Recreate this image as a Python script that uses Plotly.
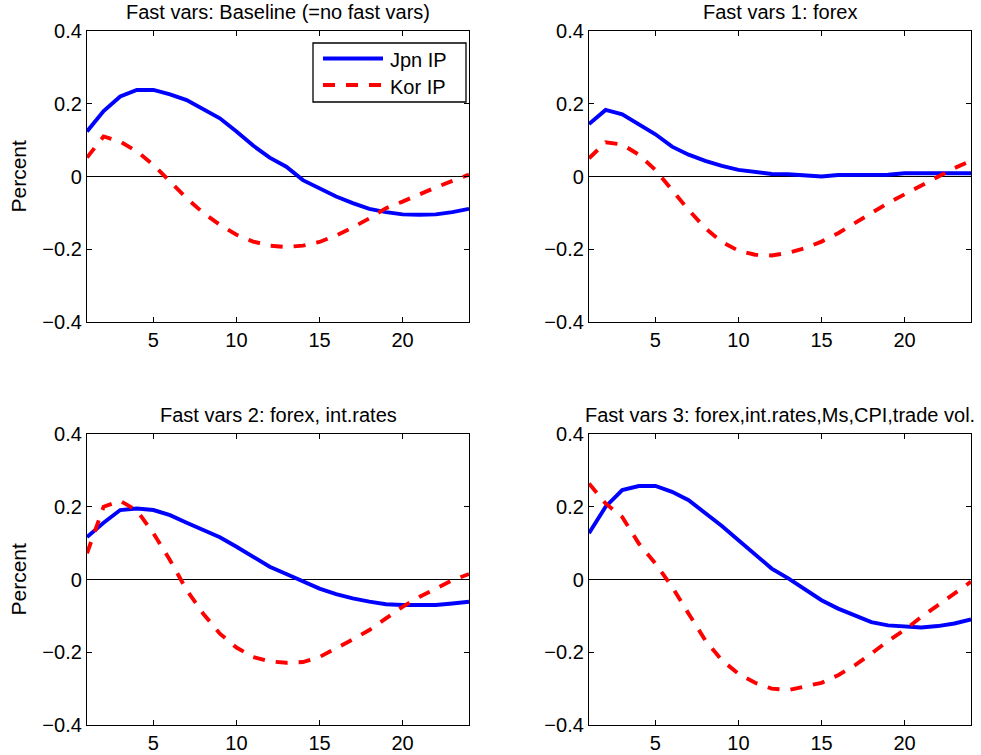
import plotly.graph_objects as go

# Impulse-response horizon (months)
horizon = list(range(1, 25))

panel_titles = [
    "Fast vars: Baseline (=no fast vars)",
    "Fast vars 1: forex",
    "Fast vars 2: forex, int.rates",
    "Fast vars 3: forex,int.rates,Ms,CPI,trade vol.",
]

series_names = ["Jpn IP", "Kor IP"]

# Responses, in percent
jpn_baseline = [0.124, 0.180, 0.220, 0.238, 0.238, 0.226, 0.210, 0.186, 0.160, 0.124,
                0.085, 0.052, 0.027, -0.010, -0.032, -0.055, -0.073, -0.089, -0.098, -0.104,
                -0.105, -0.104, -0.098, -0.089]
kor_baseline = [0.052, 0.110, 0.096, 0.069, 0.032, -0.014, -0.060, -0.100, -0.133, -0.160,
                -0.179, -0.190, -0.194, -0.190, -0.180, -0.162, -0.140, -0.115, -0.087, -0.069,
                -0.049, -0.030, -0.012, 0.005]

jpn_forex = [0.144, 0.183, 0.171, 0.144, 0.116, 0.082, 0.060, 0.043, 0.029, 0.018,
             0.012, 0.007, 0.006, 0.002, 0.000, 0.004, 0.005, 0.005, 0.005, 0.009,
             0.009, 0.009, 0.009, 0.009]
kor_forex = [0.050, 0.094, 0.088, 0.060, 0.018, -0.037, -0.092, -0.142, -0.180, -0.204,
             -0.215, -0.217, -0.210, -0.197, -0.179, -0.156, -0.128, -0.101, -0.073, -0.049,
             -0.025, 0.000, 0.023, 0.043]

jpn_rates = [0.117, 0.156, 0.191, 0.195, 0.191, 0.177, 0.156, 0.136, 0.116, 0.090,
             0.062, 0.035, 0.015, -0.006, -0.025, -0.040, -0.052, -0.061, -0.068, -0.070,
             -0.070, -0.070, -0.066, -0.061]
kor_rates = [0.072, 0.200, 0.216, 0.190, 0.127, 0.053, -0.029, -0.094, -0.149, -0.187,
             -0.213, -0.225, -0.229, -0.227, -0.213, -0.190, -0.165, -0.139, -0.107, -0.075,
             -0.048, -0.025, -0.002, 0.015]

jpn_all = [0.127, 0.200, 0.246, 0.257, 0.257, 0.241, 0.218, 0.183, 0.147, 0.108,
           0.070, 0.030, 0.003, -0.028, -0.057, -0.080, -0.098, -0.117, -0.126, -0.130,
           -0.132, -0.128, -0.121, -0.110]
kor_all = [0.264, 0.209, 0.172, 0.099, 0.044, -0.020, -0.094, -0.167, -0.222, -0.259,
           -0.284, -0.300, -0.304, -0.295, -0.284, -0.263, -0.236, -0.204, -0.169, -0.139,
           -0.103, -0.071, -0.037, -0.006]

panels = [
    (jpn_baseline, kor_baseline),
    (jpn_forex, kor_forex),
    (jpn_rates, kor_rates),
    (jpn_all, kor_all),
]

x_ticks = [5, 10, 15, 20]
y_ticks = [-0.4, -0.2, 0, 0.2, 0.4]
y_tick_text = ["\u22120.4", "\u22120.2", "0", "0.2", "0.4"]

W, H = 981, 755
FONT = "Liberation Sans, Arial, Helvetica, sans-serif"
FS = 20

BLUE = "#0000ff"
RED = "#ff0000"
LW = 3.9
DASH = "12px,11px"

# pixel boxes of each axes: (left, right, top, bottom)
boxes = [
    (87, 469, 31, 322),
    (589, 971, 31, 322),
    (87, 469, 434, 725),
    (589, 971, 434, 725),
]


def px(x):
    return x / W


def py(y):
    return 1 - y / H


fig = go.Figure()
layout = dict(
    width=W, height=H,
    margin=dict(l=0, r=0, t=0, b=0),
    paper_bgcolor="white", plot_bgcolor="white",
    font=dict(family=FONT, size=FS, color="black"),
    showlegend=False,
)

annotations = []
shapes = []
for i, ((jpn, kor), (l, r, t, b), title) in enumerate(zip(panels, boxes, panel_titles)):
    n = "" if i == 0 else str(i + 1)
    xa, ya = "x" + n, "y" + n
    fig.add_trace(go.Scatter(
        x=horizon, y=jpn, mode="lines", name=series_names[0],
        line=dict(color=BLUE, width=LW), xaxis=xa, yaxis=ya,
    ))
    fig.add_trace(go.Scatter(
        x=horizon, y=kor, mode="lines", name=series_names[1],
        line=dict(color=RED, width=LW, dash=DASH), xaxis=xa, yaxis=ya,
    ))
    layout["xaxis" + n] = dict(
        domain=[px(l), px(r)], anchor=ya, range=[1, 24],
        tickvals=x_ticks, ticks="inside", ticklen=5, tickwidth=1, tickcolor="black",
        showline=True, linecolor="black", linewidth=1.3, mirror="ticks",
        showgrid=False, zeroline=False, automargin=False,
        tickfont=dict(size=FS),
    )
    layout["yaxis" + n] = dict(
        domain=[py(b), py(t)], anchor=xa, range=[-0.4, 0.4],
        tickvals=y_ticks, ticktext=y_tick_text, ticks="inside", ticklen=5, tickwidth=1,
        tickcolor="black",
        showline=True, linecolor="black", linewidth=1.3, mirror="ticks",
        showgrid=False, zeroline=True, zerolinecolor="black", zerolinewidth=1.3,
        automargin=False, tickfont=dict(size=FS),
    )
    annotations.append(dict(
        text=title, xref="paper", yref="paper",
        x=px((l + r) / 2), y=py(t - 19),
        xanchor="center", yanchor="middle", showarrow=False,
        font=dict(size=FS),
    ))
    if i % 2 == 0:
        annotations.append(dict(
            text="Percent", xref="paper", yref="paper",
            x=px(18), y=py((t + b) / 2), textangle=-90,
            xanchor="center", yanchor="middle", showarrow=False,
            font=dict(size=21),
        ))

# Legend box in the first panel
shapes.append(dict(
    type="rect", xref="paper", yref="paper",
    x0=px(313), x1=px(466), y0=py(102), y1=py(43),
    line=dict(color="black", width=1.3), fillcolor="white", layer="above",
))
legend_rows = [(series_names[0], BLUE, "solid", 58.5), (series_names[1], RED, DASH, 85)]
for name, color, dash, yc in legend_rows:
    shapes.append(dict(
        type="line", xref="paper", yref="paper",
        x0=px(323), x1=px(383), y0=py(yc), y1=py(yc),
        line=dict(color=color, width=LW, dash=dash), layer="above",
    ))
    annotations.append(dict(
        text=name, xref="paper", yref="paper",
        x=px(388), y=py(yc + 2), xanchor="left", yanchor="middle",
        showarrow=False, font=dict(size=FS),
    ))

layout["annotations"] = annotations
layout["shapes"] = shapes
fig.update_layout(**layout)
fig.write_html("out.html")
